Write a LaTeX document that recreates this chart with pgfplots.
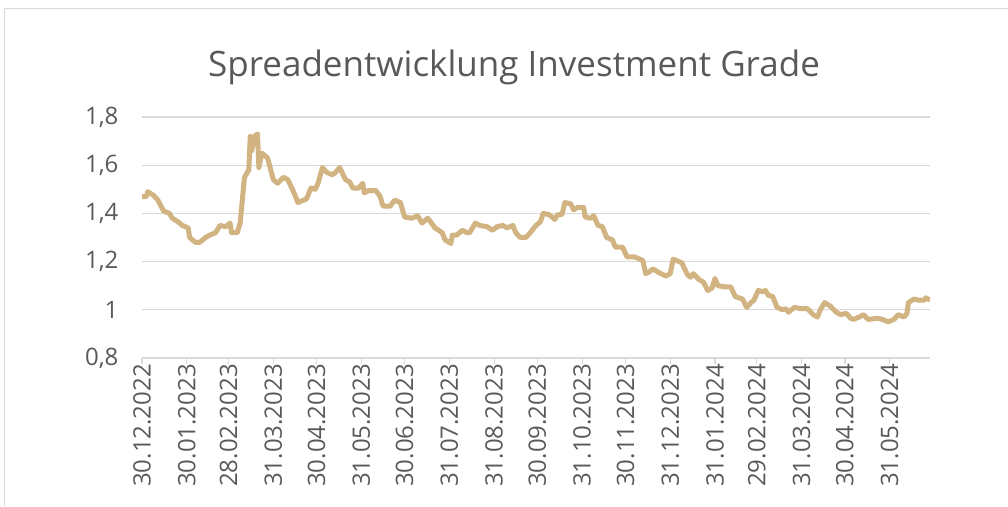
\documentclass[border=0pt]{standalone}
\usepackage{pgfplots}
\pgfplotsset{compat=1.18}
\usepackage{fontspec}
\setmainfont{Open Sans}
\definecolor{txt}{HTML}{595959}
\definecolor{gridc}{HTML}{D9D9D9}
\definecolor{linec}{HTML}{D2B482}
\begin{document}
\begin{tikzpicture}
\path[use as bounding box] (0,0) rectangle (1008pt,506pt);
\draw[gridc, line width=1pt] (4.5pt,0) -- (4.5pt,497pt) -- (1008pt,497pt);
\node[txt, anchor=base, font=\fontsize{35}{42}\selectfont] at (514pt,429pt) {Spreadentwicklung Investment Grade};
\begin{axis}[
  at={(142pt,148pt)}, anchor=south west,
  scale only axis, width=788pt, height=241pt,
  xmin=0, xmax=546, ymin=0.8, ymax=1.8,
  axis x line=bottom, axis y line=left,
  x axis line style={-, gridc, line width=1.3pt},
  y axis line style={draw=none},
  ytick={0.8,1,1.2,1.4,1.6,1.8},
  ymajorgrids, grid style={gridc, line width=1.3pt},
  ytick style={draw=none},
  xtick={0,31,60,91,121,152,182,213,244,274,305,335,366,397,426,457,487,518},
  xticklabels={30.12.2022,30.01.2023,28.02.2023,31.03.2023,30.04.2023,31.05.2023,30.06.2023,31.07.2023,31.08.2023,30.09.2023,31.10.2023,30.11.2023,31.12.2023,31.01.2024,29.02.2024,31.03.2024,30.04.2024,31.05.2024},
  xtick style={gridc, line width=1.3pt},
  tick align=outside, major tick length=6pt,
  xticklabel style={rotate=90, anchor=east, txt, font=\fontsize{24}{29}\selectfont, inner sep=0pt},
  yticklabel style={txt, font=\fontsize{24}{29}\selectfont, xshift=-14pt},
  /pgf/number format/.cd, use comma, fixed, precision=1, assume math mode=true,
]
\addplot[linec, line width=5pt, line join=round] table {
x y
0 1.47
3 1.47
4 1.49
8 1.475
11 1.455
15 1.41
19 1.40
21 1.38
25 1.365
28 1.35
32 1.34
33 1.30
37 1.28
40 1.28
44 1.30
47 1.31
51 1.32
54 1.35
58 1.345
61 1.36
62 1.32
66 1.32
68 1.36
71 1.55
74 1.58
75 1.72
76 1.66
78 1.72
80 1.73
81 1.59
83 1.65
87 1.63
91 1.54
94 1.525
98 1.55
101 1.54
105 1.49
108 1.445
112 1.455
114 1.46
117 1.505
120 1.50
122 1.525
125 1.59
128 1.57
132 1.56
134 1.57
137 1.59
141 1.54
144 1.53
146 1.505
150 1.505
153 1.525
154 1.485
157 1.495
162 1.495
165 1.47
167 1.43
172 1.43
175 1.455
179 1.445
182 1.385
187 1.38
191 1.39
194 1.36
198 1.38
203 1.34
208 1.32
210 1.29
214 1.275
215 1.31
218 1.31
222 1.33
225 1.32
227 1.32
231 1.36
234 1.35
239 1.345
243 1.33
246 1.345
250 1.35
253 1.34
257 1.35
259 1.32
262 1.30
266 1.30
269 1.32
273 1.35
276 1.365
278 1.40
282 1.395
284 1.385
286 1.375
288 1.395
291 1.395
293 1.445
297 1.44
299 1.415
302 1.425
306 1.425
307 1.385
311 1.38
313 1.39
316 1.35
319 1.345
322 1.30
326 1.29
328 1.26
333 1.26
336 1.22
341 1.22
343 1.215
347 1.205
349 1.15
351 1.155
354 1.17
358 1.155
363 1.14
366 1.15
368 1.21
372 1.20
374 1.195
378 1.145
380 1.135
382 1.15
386 1.125
389 1.115
392 1.08
395 1.09
397 1.13
399 1.10
404 1.095
408 1.095
411 1.055
416 1.045
419 1.01
422 1.03
424 1.04
427 1.08
430 1.075
432 1.08
434 1.06
437 1.055
440 1.01
444 1.00
446 1.005
448 0.99
452 1.01
456 1.005
461 1.005
465 0.98
468 0.97
470 1.00
473 1.03
477 1.015
481 0.99
484 0.98
488 0.985
491 0.965
493 0.96
497 0.97
500 0.98
503 0.96
510 0.965
513 0.96
517 0.95
521 0.96
524 0.98
528 0.97
530 0.985
531 1.03
535 1.045
538 1.04
542 1.04
543 1.05
546 1.04
};
\end{axis}
\end{tikzpicture}
\end{document}
